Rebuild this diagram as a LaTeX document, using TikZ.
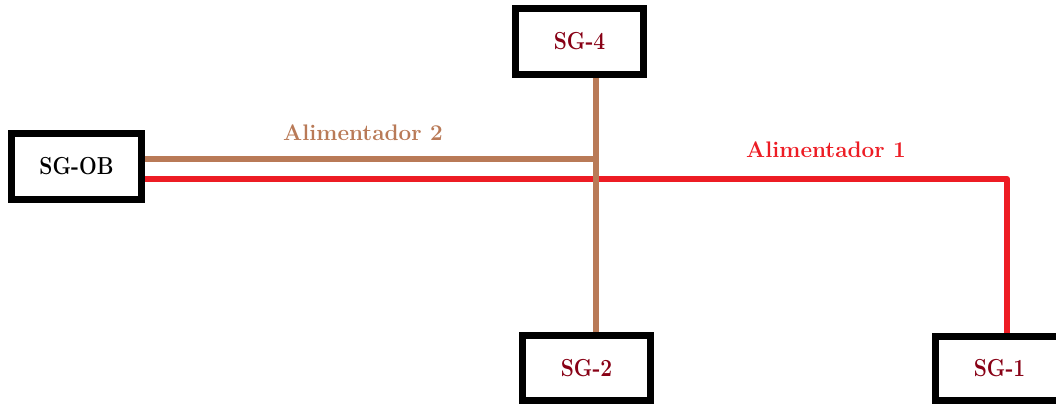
\documentclass[tikz,border=0pt]{standalone}
\usepackage{fontspec}
\usetikzlibrary{backgrounds}
\definecolor{feedred}{HTML}{ED1C24}
\definecolor{feedbrown}{HTML}{B97A57}
\definecolor{sgred}{HTML}{880015}
\newcommand{\boxtxt}[1]{\scalebox{1}[1.17]{#1}}
\begin{document}
\begin{tikzpicture}[x=1pt,y=-1pt,
  sgbox/.style={draw=black,line width=7pt,inner sep=0pt,minimum width=128pt,minimum height=66pt,
    font=\fontsize{21}{25}\selectfont\bfseries,text=sgred},
  redline/.style={draw=feedred,line width=6pt,line cap=round,line join=round},
  brownline/.style={draw=feedbrown,line width=6pt},
  lbl/.style={font=\fontsize{22.5}{27}\selectfont\bfseries,inner sep=0pt,anchor=base}]
\useasboundingbox (0,0) rectangle (1056,404);
\clip (0,0) rectangle (1056,404);
\node[sgbox,minimum width=130pt,text=black] (SGOB) at (76.5,166.5) {\boxtxt{SG-OB}};
\node[sgbox] (SG4) at (579.5,41.5) {\boxtxt{SG-4}};
\node[sgbox,minimum height=65pt] (SG2) at (586.5,368) {\boxtxt{SG-2}};
\node[sgbox,minimum height=64pt] (SG1) at (999.5,368.5) {\boxtxt{SG-1}};
\coordinate (r1) at (1007,179);
\coordinate (b1) at (596,159);
\node[lbl,text=feedbrown] (L2) at (363,140) {Alimentador 2};
\node[lbl,text=feedred] (L1) at (826,157) {Alimentador 1};
\begin{pgfonlayer}{background}
\fill[white] (0,0) rectangle (1056,404);
\draw[redline] (SGOB.east |- r1) -- (r1) -- (r1 |- SG1.north);
\draw[brownline] (SGOB.east |- b1) -- ([xshift=3pt]b1);
\draw[brownline] (SG4.south -| b1) -- (SG2.north -| b1);
\end{pgfonlayer}
\end{tikzpicture}
\end{document}
